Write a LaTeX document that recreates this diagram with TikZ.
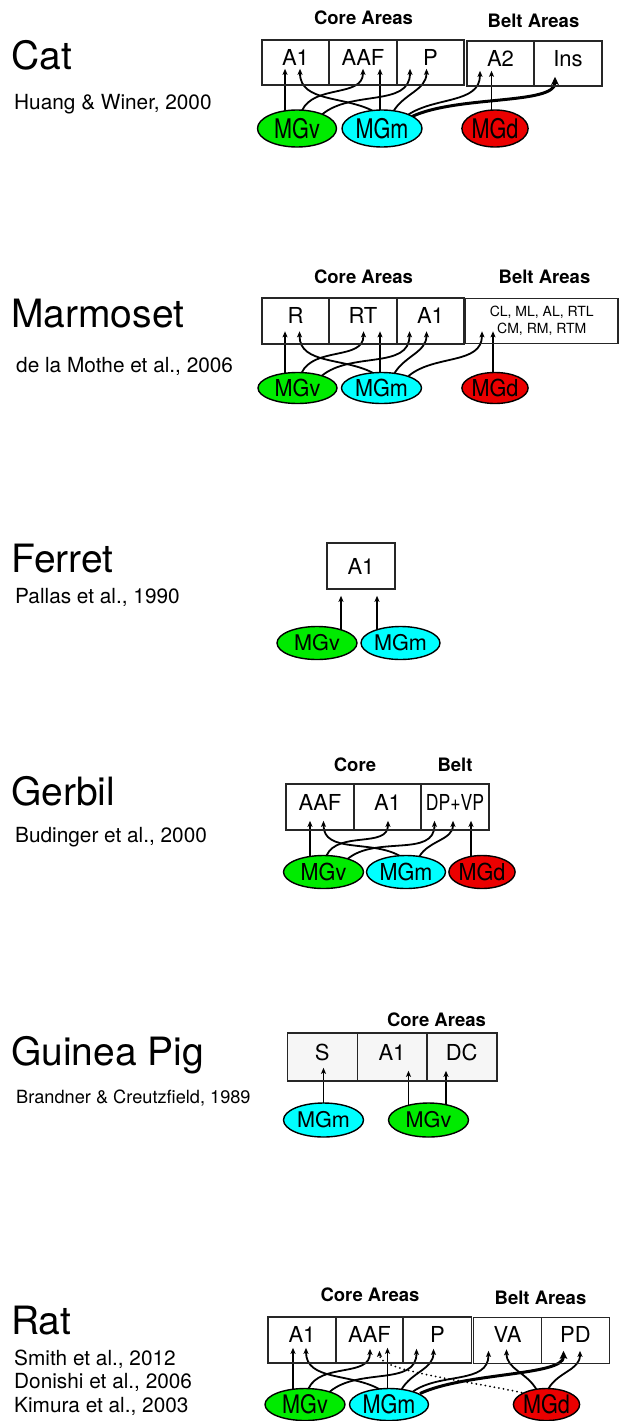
\documentclass[tikz,border=0pt]{standalone}
\usepackage{fontspec}
\setmainfont{TeX Gyre Heros}
\usepackage{graphicx}
\usetikzlibrary{shapes.geometric,arrows.meta,calc,backgrounds}

\definecolor{mgv}{RGB}{0,235,0}
\definecolor{mgm}{RGB}{0,255,255}
\definecolor{mgd}{RGB}{235,0,0}
\definecolor{gpfill}{RGB}{246,246,246}

% vertically stretched nucleus label
\newcommand{\vs}[2]{\scalebox{1}[#1]{#2}}

\begin{document}
\begin{tikzpicture}[x=1pt,y=1pt,
  title/.style={font=\fontsize{39}{44}\selectfont, anchor=base west, inner sep=0},
  cite/.style={font=\fontsize{20.8}{24}\selectfont, anchor=base west, inner sep=0},
  gpcite/.style={font=\fontsize{18.2}{22}\selectfont, anchor=base west, inner sep=0},
  head/.style={font=\bfseries\fontsize{18.5}{22}\selectfont, inner sep=0},
  area/.style={draw=black!85, line width=1.6pt, minimum height=46pt, inner sep=0,
    font=\fontsize{22}{26}\selectfont, text height=16pt, text depth=10pt},
  areahi/.style={area, text depth=12pt},
  plainarea/.style={draw=black!85, line width=1.6pt, minimum height=46pt, inner sep=0,
    font=\fontsize{22}{26}\selectfont},
  beltlist/.style={draw=black!85, line width=1.6pt, minimum height=45pt, inner sep=0,
    align=center, font=\fontsize{14}{17.3}\selectfont},
  nuc/.style={ellipse, draw=black, line width=1.4pt, inner sep=0,
    font=\fontsize{21.6}{24}\selectfont},
  conn/.style={line width=1.8pt, -{Stealth[length=6pt,width=5pt,inset=1.3pt]}},
  thickconn/.style={line width=3pt, -{Stealth[length=8pt,width=7.5pt,inset=1.6pt]}},
  dotconn/.style={line width=2pt, dash pattern=on 0pt off 4.6pt, line cap=round,
    -{Stealth[length=6pt,width=5pt,inset=1.3pt]}}
]
\useasboundingbox (0,0) rectangle (620,-1421);
\begin{scope}[on background layer]
  \fill[white] (0,0) rectangle (620,-1421);
\end{scope}

% ---------------- Cat ----------------
\node[title] (catName) at (11,-70) {Cat};
\node[cite] (catRef) at (14,-109) {Huang \& Winer, 2000};
\node[head] (catCore) at (363.5,-17.5) {Core Areas};
\node[head] (catBeltH) at (533.5,-21) {Belt Areas};
\node[area, minimum width=67pt, minimum height=45pt] (catA1) at (295.5,-62.5) {A1};
\node[area, minimum width=68pt, minimum height=45pt] (catAAF) at (363,-62.5) {AAF};
\node[area, minimum width=67pt, minimum height=45pt] (catP) at (430.5,-62.5) {P};
\node[area, minimum width=67pt, minimum height=45pt] (catA2) at (500.5,-63.5) {A2};
\node[area, minimum width=68pt, minimum height=45pt] (catIns) at (568,-63.5) {Ins};
\node[nuc, fill=mgv, minimum width=79pt, minimum height=37pt] (catv) at (297,-128.5) {\vs{1.25}{MGv}};
\node[nuc, fill=mgm, minimum width=80pt, minimum height=37pt] (catm) at (382,-128.5) {\vs{1.25}{MGm}};
\node[nuc, fill=mgd, minimum width=64pt, minimum height=37pt] (catd) at (495,-128.5) {\vs{1.25}{MGd}};

% ---------------- Marmoset ----------------
\node[title] (marName) at (11,-327) {Marmoset};
\node[cite] (marRef) at (16,-372) {de la Mothe et al., 2006};
\node[head] (marCore) at (363.5,-277) {Core Areas};
\node[head] (marBeltH) at (544.5,-277) {Belt Areas};
\node[areahi, minimum width=67pt] (marR) at (295.5,-321) {R};
\node[areahi, minimum width=68pt] (marRT) at (363,-321) {RT};
\node[areahi, minimum width=67pt] (marA1) at (430.5,-321) {A1};
\node[beltlist, minimum width=152.5pt] (marBelt) at (541.75,-321) {CL, ML, AL, RTL\\CM, RM, RTM};
\node[nuc, fill=mgv, minimum width=79pt, minimum height=31pt] (marv) at (297.5,-388) {\vs{1.08}{MGv}};
\node[nuc, fill=mgm, minimum width=80pt, minimum height=31pt] (marm) at (381.5,-388) {\vs{1.08}{MGm}};
\node[nuc, fill=mgd, minimum width=64pt, minimum height=31pt] (mard) at (495,-388) {\vs{1.08}{MGd}};

% ---------------- Ferret ----------------
\node[title] (ferName) at (11,-572) {Ferret};
\node[cite] (ferRef) at (15,-603) {Pallas et al., 1990};
\node[plainarea, minimum width=68pt] (ferA1) at (361,-566) {A1};
\node[nuc, fill=mgv, minimum width=80pt, minimum height=33pt] (ferv) at (317,-643) {MGv};
\node[nuc, fill=mgm, minimum width=79pt, minimum height=33pt] (ferm) at (400.5,-643) {MGm};

% ---------------- Gerbil ----------------
\node[title] (gerName) at (11,-805) {Gerbil};
\node[cite] (gerRef) at (15,-842) {Budinger et al., 2000};
\node[head] (gerCore) at (355,-765) {Core};
\node[head] (gerBeltH) at (455,-765) {Belt};
\node[area, minimum width=68pt] (gerAAF) at (320,-807) {AAF};
\node[area, minimum width=67pt] (gerA1) at (387.5,-807) {A1};
\node[area, minimum width=68pt] (gerDV) at (455,-807) {\scalebox{0.8}[1]{DP+VP}};
\node[nuc, fill=mgv, minimum width=80pt, minimum height=33pt] (gerv) at (323.5,-872) {\vs{1.08}{MGv}};
\node[nuc, fill=mgm, minimum width=79pt, minimum height=33pt] (germ) at (406,-872) {\vs{1.08}{MGm}};
\node[nuc, fill=mgd, minimum width=63pt, minimum height=33pt] (gerd) at (482,-872) {\vs{1.08}{MGd}};

% ---------------- Guinea Pig ----------------
\node[title] (gpName) at (11,-1065) {Guinea Pig};
\node[gpcite] (gpRef) at (16,-1103) {Brandner \& Creutzfield, 1989};
\node[head] (gpCore) at (436.5,-1019.5) {Core Areas};
\node[area, minimum width=70pt, minimum height=48pt] (gpS) at (322.3,-1057) {S};
\node[area, minimum width=69.4pt, minimum height=48pt] (gpA1) at (392,-1057) {A1};
\node[area, minimum width=70pt, minimum height=48pt] (gpDC) at (461.7,-1057) {DC};
\node[nuc, fill=mgm, minimum width=80pt, minimum height=34pt] (gpm) at (323.5,-1120) {MGm};
\node[nuc, fill=mgv, minimum width=80pt, minimum height=34pt] (gpv) at (428.5,-1120) {MGv};

% ---------------- Rat ----------------
\node[title] (ratName) at (11,-1334) {Rat};
\node[cite] (ratRef1) at (14,-1365) {Smith et al., 2012};
\node[cite] (ratRef2) at (14,-1388) {Donishi et al., 2006};
\node[cite] (ratRef3) at (14,-1412) {Kimura et al., 2003};
\node[head] (ratCore) at (370,-1295) {Core Areas};
\node[head] (ratBeltH) at (540.5,-1298) {Belt Areas};
\node[areahi, minimum width=68pt] (ratA1) at (302,-1340) {A1};
\node[areahi, minimum width=67pt] (ratAAF) at (369.5,-1340) {AAF};
\node[areahi, minimum width=68pt] (ratP) at (437.5,-1340) {P};
\node[areahi, minimum width=68pt] (ratVA) at (507.5,-1340.5) {VA};
\node[areahi, minimum width=68pt] (ratPD) at (575.5,-1340.5) {PD};
\node[nuc, fill=mgv, minimum width=80pt, minimum height=32pt] (ratv) at (305,-1404.5) {\vs{1.18}{MGv}};
\node[nuc, fill=mgm, minimum width=79pt, minimum height=32pt] (ratm) at (389,-1404.5) {\vs{1.18}{MGm}};
\node[nuc, fill=mgd, minimum width=63pt, minimum height=32pt] (ratd) at (546.5,-1404.5) {\vs{1.18}{MGd}};

% ---------------- projections (drawn beneath the nuclei) ----------------
\begin{scope}[on background layer]
  \fill[gpfill] (gpS.south west) rectangle (gpDC.north east);

  % Cat
  \draw[conn] ($(catv)+(-12,0)$) -- ($(catA1.south)+(-10.5,17)$);
  \draw[conn] ($(catm)+(-6,16)$) to[out=150,in=-90] ($(catA1.south)+(4.5,17)$);
  \draw[conn] ($(catv)+(5,18)$) to[out=65,in=-90] ($(catAAF.south)+(0,17)$);
  \draw[conn] ($(catm)+(-2,0)$) -- ($(catAAF.south)+(17,17)$);
  \draw[conn] ($(catv)+(25,14)$) to[out=40,in=-90] ($(catP.south)+(-20.5,17)$);
  \draw[conn] ($(catm)+(11,16.5)$) to[out=60,in=-90] ($(catP.south)+(-4,17)$);
  \draw[conn] ($(catm)+(25,13)$) to[out=35,in=-90] ($(catA2.south)+(-20.5,16)$);
  \draw[conn] ($(catd)+(-3.5,0)$) -- ($(catA2.south)+(-9,16)$);
  \draw[thickconn] ($(catm)+(30,12)$) to[out=25,in=-90,out distance=50,in distance=28] ($(catIns.south)+(-13,10)$);

  % Marmoset
  \draw[conn] ($(marv)+(-12.5,0)$) -- ($(marR.south)+(-10.5,13.5)$);
  \draw[conn] ($(marm)+(-6.5,14)$) to[out=150,in=-90] ($(marR.south)+(4,13.5)$);
  \draw[conn] ($(marv)+(4,15)$) to[out=65,in=-90] ($(marRT.south)+(0.5,13.5)$);
  \draw[conn] ($(marm)+(-1.5,0)$) -- ($(marRT.south)+(17,13.5)$);
  \draw[conn] ($(marv)+(24,12)$) to[out=40,in=-90] ($(marA1.south)+(-21,13.5)$);
  \draw[conn] ($(marm)+(12.5,14)$) to[out=60,in=-90] ($(marA1.south)+(-4,13.5)$);
  \draw[conn] ($(marm)+(27,12)$) to[out=40,in=-90] ($(marBelt.south)+(-59.75,13)$);
  \draw[conn] ($(mard)+(-2,0)$) -- ($(marBelt.south)+(-48.75,13)$);

  % Ferret
  \draw[conn] ($(ferv)+(24,0)$) -- ($(ferA1.south)+(-20,-6)$);
  \draw[conn] ($(ferm)+(-23.5,0)$) -- ($(ferA1.south)+(16,-6)$);

  % Gerbil
  \draw[conn] ($(gerv)+(-13.5,0)$) -- ($(gerAAF.south)+(-10,10)$);
  \draw[conn] ($(germ)+(-6,16)$) to[out=150,in=-90] ($(gerAAF.south)+(3.5,10)$);
  \draw[conn] ($(gerv)+(3,16.5)$) to[out=65,in=-90] ($(gerA1.south)+(0.5,10)$);
  \draw[conn] ($(gerv)+(24,13)$) to[out=40,in=-90] ($(gerDV.south)+(-20.5,10)$);
  \draw[conn] ($(germ)+(13,15)$) to[out=60,in=-90] ($(gerDV.south)+(-2,10)$);
  \draw[conn] ($(gerd)+(-11,0)$) -- ($(gerDV.south)+(16,10)$);

  % Guinea Pig
  \draw[conn] ($(gpm)+(0,0)$) -- ($(gpS.south)+(1.2,14)$);
  \draw[conn] ($(gpv)+(-20,0)$) -- ($(gpA1.south)+(16.5,11)$);
  \draw[conn] ($(gpv)+(17.5,0)$) -- ($(gpDC.south)+(-15.7,11)$);

  % Rat
  \draw[conn] ($(ratv)+(-12,0)$) -- ($(ratA1.south)+(-9,16)$);
  \draw[conn] ($(ratm)+(-9,15)$) to[out=150,in=-90] ($(ratA1.south)+(4,16)$);
  \draw[conn] ($(ratv)+(3.5,16)$) to[out=65,in=-90] ($(ratAAF.south)+(0.5,15)$);
  \draw[dotconn] ($(ratd)+(-25,12)$) to[out=168,in=-90,out distance=60,in distance=20] ($(ratAAF.south)+(10,13)$);
  \draw[conn] ($(ratm)+(-1.5,0)$) -- ($(ratAAF.south)+(18,16)$);
  \draw[conn] ($(ratv)+(25,13)$) to[out=40,in=-90] ($(ratP.south)+(-21,15)$);
  \draw[conn] ($(ratm)+(12.5,15)$) to[out=60,in=-90] ($(ratP.south)+(-4,15)$);
  \draw[conn] ($(ratm)+(24,13)$) to[out=35,in=-90] ($(ratVA.south)+(-19,13.5)$);
  \draw[conn] ($(ratd)+(-10,15)$) to[out=120,in=-90] ($(ratVA.south)+(-1,15)$);
  \draw[thickconn] ($(ratm)+(31,11)$) to[out=25,in=-90,out distance=50,in distance=25] ($(ratPD.south)+(-12,13.5)$);
  \draw[conn] ($(ratd)+(2,16)$) to[out=60,in=-90] ($(ratPD.south)+(4.5,13.5)$);
\end{scope}
\end{tikzpicture}
\end{document}
